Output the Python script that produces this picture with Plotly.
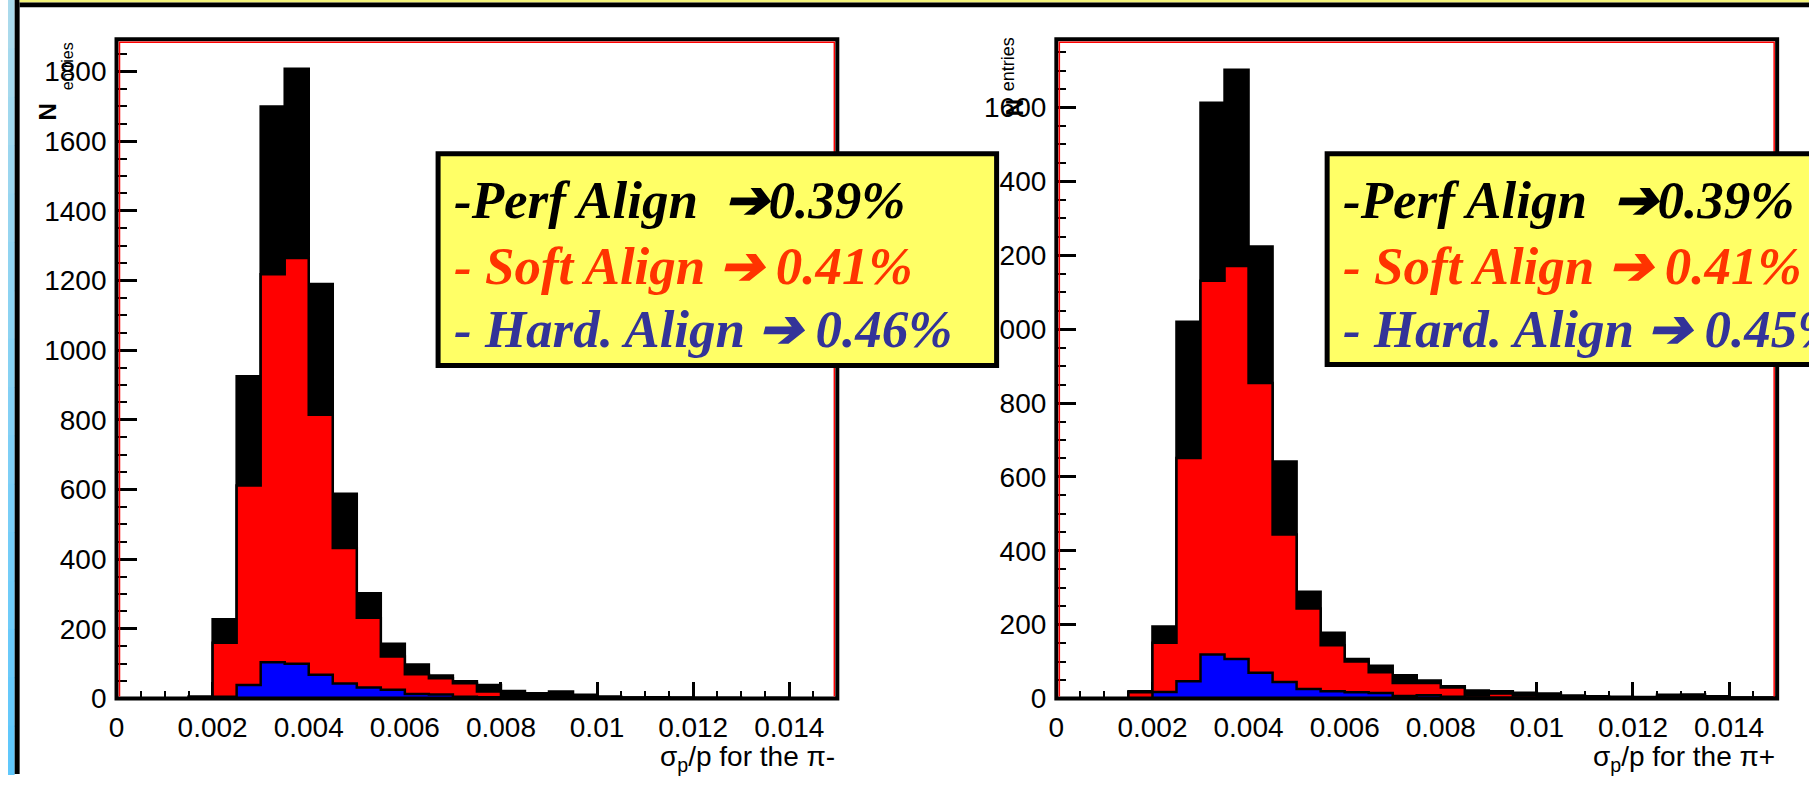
import plotly.graph_objects as go

W, H = 1809, 790

# ---------------- data ----------------
BIN_WIDTH = 0.0005
N_BINS = 30
bin_edges = [i * BIN_WIDTH for i in range(N_BINS + 1)]

# pi- panel (left)
pim_perf = [0, 0, 0, 6, 228, 925, 1700, 1808, 1190, 588, 302, 157, 98, 66, 50, 39, 22, 15, 20, 11, 6, 3, 4, 3, 2, 2, 1, 2, 1, 0]
pim_soft = [0, 0, 0, 2, 160, 612, 1218, 1265, 815, 432, 232, 121, 70, 58, 44, 20, 8, 6, 5, 4, 3, 2, 2, 1, 1, 1, 1, 1, 0, 0]
pim_hard = [0, 0, 0, 0, 5, 39, 104, 100, 68, 43, 32, 25, 13, 12, 5, 4, 2, 1, 1, 1, 0, 0, 0, 0, 0, 0, 0, 0, 0, 0]

# pi+ panel (right)
pip_perf = [0, 0, 0, 20, 195, 1020, 1613, 1702, 1224, 642, 289, 178, 107, 89, 63, 49, 33, 22, 20, 16, 14, 8, 6, 5, 4, 10, 11, 6, 3, 3]
pip_soft = [1, 1, 1, 17, 151, 651, 1131, 1171, 854, 444, 244, 144, 100, 71, 42, 42, 30, 9, 14, 8, 6, 4, 3, 3, 2, 5, 4, 3, 2, 2]
pip_hard = [0, 0, 0, 1, 18, 47, 119, 107, 70, 45, 26, 20, 17, 15, 7, 9, 5, 3, 2, 2, 1, 1, 1, 0, 0, 1, 0, 0, 0, 0]

x_titles = ["σ<sub>p</sub>/p for the π-", "σ<sub>p</sub>/p for the π+"]
box_lines_left = ["-Perf Align\u00a0 ➔0.39%", "- Soft Align ➔ 0.41%", "- Hard. Align ➔ 0.46%"]
box_lines_right = ["-Perf Align\u00a0 ➔0.39%", "- Soft Align ➔ 0.41%", "- Hard. Align ➔ 0.45%"]
box_colors = ["#000000", "#ff3300", "#333399"]
series_colors = ["#000000", "#ff0000", "#0000ff"]
y_max = [1893, 1785]

# ---------------- helpers ----------------
def px(x):
    return x / W


def py(y):
    return 1 - y / H


panels = [
    dict(x0=109, x1=833, y0=40, y1=713, data=[pim_perf, pim_soft, pim_hard]),
    dict(x0=1053, x1=1777, y0=40, y1=713, data=[pip_perf, pip_soft, pip_hard]),
]

fig = go.Figure()

SANS = "Liberation Sans, Arial, sans-serif"
tick_font = dict(family=SANS, size=28, color="black")

for k, p in enumerate(panels):
    xa = "x" if k == 0 else "x2"
    ya = "y" if k == 0 else "y2"
    for vals, col in zip(p["data"], series_colors):
        fig.add_trace(go.Scatter(
            x=bin_edges, y=list(vals) + [vals[-1]],
            mode="lines", line=dict(shape="hv", color="black", width=2.5),
            fill="tozeroy", fillcolor=col, xaxis=xa, yaxis=ya,
            showlegend=False, hoverinfo="skip"))

    xkey = "xaxis" if k == 0 else "xaxis2"
    ykey = "yaxis" if k == 0 else "yaxis2"
    fig.update_layout(**{
        xkey: dict(domain=[px(p["x0"]), px(p["x1"])], range=[0, 0.015], anchor=ya,
                   tick0=0, dtick=0.002, ticks="inside", ticklen=17, tickwidth=3, tickcolor="black",
                   minor=dict(dtick=0.0005, ticks="inside", ticklen=8, tickwidth=2, tickcolor="black"),
                   showgrid=False, zeroline=False, showline=False, tickfont=tick_font,
                   layer="below traces", ticklabelstandoff=9, fixedrange=True),
        ykey: dict(domain=[py(p["y1"]), py(p["y0"])], range=[0, y_max[k]], anchor=xa,
                   tick0=0, dtick=200, ticks="inside", ticklen=20, tickwidth=3, tickcolor="black",
                   minor=dict(dtick=50, ticks="inside", ticklen=10, tickwidth=2, tickcolor="black"),
                   showgrid=False, zeroline=False, showline=False, tickfont=tick_font,
                   layer="below traces", ticklabelstandoff=9, fixedrange=True),
    })

shapes = []
# page decoration: left blue gradient strip + black line, top yellow strip + black line
n_seg = 16
c_top = (170, 218, 236)
c_bot = (96, 200, 252)
for i in range(n_seg):
    t = i / (n_seg - 1)
    c = tuple(int(round(c_top[j] + (c_bot[j] - c_top[j]) * t)) for j in range(3))
    shapes.append(dict(type="rect", xref="paper", yref="paper",
                       x0=px(0), x1=px(6.7), y0=py(i * H / n_seg), y1=py((i + 1) * H / n_seg + 1),
                       fillcolor="rgb(%d,%d,%d)" % c, line=dict(width=0), layer="above"))
shapes.append(dict(type="rect", xref="paper", yref="paper", x0=px(6.7), x1=px(11.7), y0=py(0), y1=py(H),
                   fillcolor="black", line=dict(width=0), layer="above"))
shapes.append(dict(type="rect", xref="paper", yref="paper", x0=px(11.7), x1=px(W), y0=py(0), y1=py(2.5),
                   fillcolor="#f4f47a", line=dict(width=0), layer="above"))
shapes.append(dict(type="rect", xref="paper", yref="paper", x0=px(11.7), x1=px(W), y0=py(2.5), y1=py(7.5),
                   fillcolor="black", line=dict(width=0), layer="above"))

# plot frames (black outer, red inner on left/top/right)
for p in panels:
    shapes.append(dict(type="rect", xref="paper", yref="paper",
                       x0=px(p["x0"]), x1=px(p["x1"]), y0=py(p["y1"]), y1=py(p["y0"]),
                       line=dict(color="black", width=4), fillcolor="rgba(0,0,0,0)", layer="above"))
    d = 3
    path = "M %f,%f L %f,%f L %f,%f L %f,%f" % (
        px(p["x0"] + d), py(p["y1"] - 2), px(p["x0"] + d), py(p["y0"] + d),
        px(p["x1"] - d), py(p["y0"] + d), px(p["x1"] - d), py(p["y1"] - 2))
    shapes.append(dict(type="path", xref="paper", yref="paper", path=path,
                       line=dict(color="#ff0000", width=1.5), layer="above"))

# yellow text boxes
boxes = [dict(x0=432, x1=993, y0=157, y1=373), dict(x0=1325, x1=1860, y0=157, y1=372)]
for b in boxes:
    shapes.append(dict(type="rect", xref="paper", yref="paper",
                       x0=px(b["x0"]), x1=px(b["x1"]), y0=py(b["y1"]), y1=py(b["y0"]),
                       fillcolor="#ffff66", line=dict(color="black", width=5), layer="above"))

annotations = []
line_y = [204, 271, 336]
for b, lines in zip(boxes, [box_lines_left, box_lines_right]):
    for txt, col, yy in zip(lines, box_colors, line_y):
        annotations.append(dict(xref="paper", yref="paper", x=px(b["x0"] + 14), y=py(yy),
                                xanchor="left", yanchor="middle", showarrow=False,
                                text="<b><i>%s</i></b>" % txt,
                                font=dict(family="Liberation Serif, Times New Roman, serif", size=53, color=col)))

# x-axis titles
for p, t in zip(panels, x_titles):
    annotations.append(dict(xref="paper", yref="paper", x=px(p["x1"]), y=py(774),
                            xanchor="right", yanchor="middle", showarrow=False, text=t,
                            font=dict(family=SANS, size=28, color="black")))

# y-axis titles (N_entries, rotated)
ytit = [dict(nx=40, ny=114, ex=60, ey=68, ns=24, es=16), dict(nx=1011, ny=110, ex=1004, ey=66, ns=24, es=18)]
for yt in ytit:
    annotations.append(dict(xref="paper", yref="paper", x=px(yt["nx"]), y=py(yt["ny"]),
                            xanchor="center", yanchor="middle", showarrow=False, text="<b>N</b>", textangle=-90,
                            font=dict(family=SANS, size=yt["ns"], color="black")))
    annotations.append(dict(xref="paper", yref="paper", x=px(yt["ex"]), y=py(yt["ey"]),
                            xanchor="center", yanchor="middle", showarrow=False, text="entries", textangle=-90,
                            font=dict(family=SANS, size=yt["es"], color="black")))

fig.update_layout(width=W, height=H, margin=dict(l=0, r=0, t=0, b=0),
                  paper_bgcolor="white", plot_bgcolor="white",
                  shapes=shapes, annotations=annotations, showlegend=False)

fig.write_html("out.html", config={"displayModeBar": False},
               post_script="document.body.style.margin='0';document.body.style.overflow='hidden';")
